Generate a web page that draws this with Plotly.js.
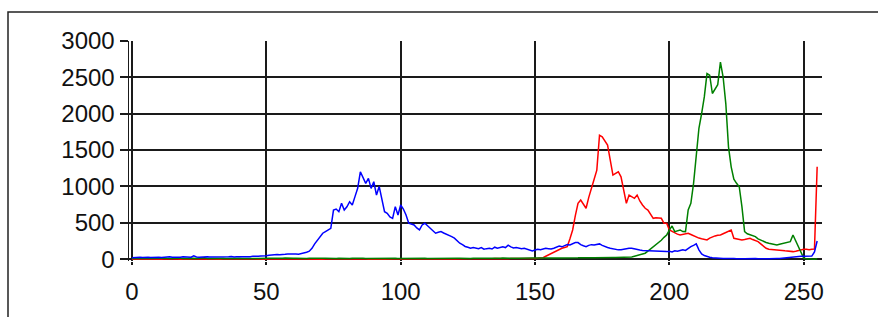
<!DOCTYPE html>
<html>
<head>
<meta charset="utf-8">
<script src="https://cdn.plot.ly/plotly-3.0.1.min.js"></script>
<style>
  html, body { margin: 0; padding: 0; background: #fff; }
  #chart { width: 878px; height: 317px; }
</style>
</head>
<body>
<div id="chart"></div>
<script>
// Histogram counts per intensity level 0..255 (x = index)
const redCounts = [
  0, 2, 0, 1, 0, 3, 0, 2, 1, 0,
  2, 0, 1, 3, 0, 2, 0, 1, 0, 2,
  1, 0, 3, 0, 2, 1, 0, 2, 0, 1,
  0, 2, 1, 0, 3, 1, 0, 2, 0, 1,
  2, 0, 1, 0, 2, 3, 0, 1, 2, 0,
  1, 2, 0, 3, 1, 0, 2, 1, 0, 2,
  3, 1, 0, 2, 1, 4, 0, 2, 3, 1,
  2, 0, 3, 1, 2, 0, 4, 1, 2, 3,
  1, 3, 2, 0, 4, 2, 1, 3, 0, 2,
  3, 1, 4, 2, 0, 3, 2, 1, 4, 2,
  3, 2, 4, 1, 3, 5, 2, 4, 3, 2,
  4, 3, 5, 2, 4, 3, 6, 4, 3, 5,
  4, 6, 3, 5, 4, 6, 5, 4, 7, 5,
  6, 5, 7, 6, 5, 8, 6, 7, 8, 6,
  7, 8, 6, 9, 7, 8, 10, 8, 9, 11,
  10, 12, 15, 20, 40, 59, 80, 100, 120, 140,
  150, 160, 173, 280, 402, 600, 768, 813, 760, 700,
  850, 996, 1100, 1225, 1705, 1682, 1630, 1568, 1362, 1157,
  1180, 1202, 1133, 950, 768, 882, 860, 837, 882, 800,
  745, 700, 676, 620, 562, 570, 562, 562, 494, 494,
  402, 380, 357, 345, 333, 340, 350, 357, 340, 320,
  310, 290, 280, 270, 265, 290, 310, 320, 330, 333,
  350, 365, 379, 402, 288, 280, 270, 265, 270, 280,
  288, 270, 255, 241, 210, 173, 150, 137, 135, 130,
  128, 128, 120, 115, 110, 108, 104, 110, 120, 130,
  137, 137, 130, 137, 140, 1270
];
const greenCounts = [
  8, 10, 12, 9, 11, 14, 10, 12, 9, 13,
  11, 10, 14, 12, 9, 11, 15, 10, 12, 11,
  13, 9, 12, 14, 10, 11, 13, 20, 10, 12,
  11, 14, 10, 12, 13, 9, 11, 14, 12, 10,
  12, 11, 13, 10, 14, 12, 11, 10, 13, 12,
  11, 14, 12, 10, 13, 11, 12, 15, 11, 13,
  12, 14, 11, 13, 12, 10, 14, 12, 11, 13,
  10, 12, 14, 11, 13, 12, 10, 14, 11, 12,
  13, 11, 12, 14, 10, 12, 13, 11, 12, 10,
  13, 11, 12, 14, 11, 12, 10, 13, 12, 11,
  12, 14, 11, 13, 10, 12, 11, 14, 12, 13,
  11, 12, 10, 13, 14, 11, 12, 13, 10, 12,
  11, 13, 12, 10, 14, 12, 11, 13, 12, 14,
  12, 11, 13, 15, 12, 14, 13, 12, 15, 13,
  14, 12, 15, 13, 14, 16, 13, 15, 14, 16,
  15, 14, 16, 15, 17, 16, 15, 18, 16, 17,
  16, 18, 17, 16, 19, 17, 18, 20, 18, 19,
  20, 19, 21, 20, 22, 21, 23, 22, 24, 23,
  24, 25, 24, 26, 25, 28, 30, 40, 50, 60,
  70, 82, 110, 140, 170, 196, 220, 260, 300, 333,
  400, 457, 379, 390, 402, 380, 379, 676, 768, 1043,
  1400, 1800, 2003, 2231, 2552, 2529, 2278, 2330, 2400, 2711,
  2505, 2140, 1545, 1270, 1100, 1043, 996, 722, 379, 350,
  333, 320, 310, 280, 260, 241, 230, 220, 210, 200,
  196, 205, 215, 220, 230, 241, 333, 250, 173, 73,
  14, 5, 0, 0, 0, 5
];
const blueCounts = [
  20, 25, 22, 28, 24, 30, 26, 22, 27, 25,
  28, 24, 30, 26, 35, 28, 25, 30, 27, 32,
  28, 30, 26, 45, 30, 28, 32, 29, 35, 31,
  30, 34, 28, 32, 36, 30, 33, 38, 31, 35,
  34, 40, 36, 38, 35, 42, 38, 40, 45, 42,
  48, 55, 60, 58, 65, 62, 70, 68, 72, 75,
  70, 72, 68, 75, 80, 95, 110, 150, 210, 260,
  320, 357, 380, 400, 425, 676, 690, 653, 768, 676,
  720, 790, 745, 860, 974, 1202, 1130, 1043, 1111, 974,
  1065, 882, 1000, 813, 653, 631, 580, 562, 722, 608,
  745, 690, 608, 494, 480, 471, 430, 402, 471, 494,
  460, 425, 380, 357, 370, 379, 360, 347, 330, 310,
  290, 250, 220, 200, 175, 165, 150, 160, 150, 145,
  160, 137, 145, 150, 140, 165, 150, 155, 170, 160,
  192, 170, 155, 160, 150, 145, 150, 140, 130, 114,
  125, 135, 130, 140, 150, 145, 140, 150, 165, 180,
  170, 190, 200, 195, 210, 228, 228, 200, 185, 173,
  190, 200, 196, 205, 210, 190, 170, 160, 151, 140,
  135, 128, 130, 140, 145, 150, 151, 140, 130, 125,
  120, 118, 115, 110, 108, 105, 104, 104, 100, 104,
  110, 100, 115, 110, 120, 128, 120, 150, 173, 190,
  210, 128, 73, 50, 35, 27, 20, 15, 12, 10,
  8, 10, 6, 12, 8, 5, 10, 7, 6, 9,
  5, 8, 10, 6, 8, 12, 7, 5, 9, 6,
  10, 8, 12, 15, 20, 25, 30, 35, 45, 40,
  40, 38, 40, 42, 100, 250
];
const xTicks = [0, 50, 100, 150, 200, 250];
const yTicks = [0, 500, 1000, 1500, 2000, 2500, 3000];
const seriesNames = ['Red', 'Green', 'Blue'];
const seriesColors = ['#ff0000', '#008000', '#0000ff'];

const allCounts = [redCounts, greenCounts, blueCounts];
const traces = allCounts.map((ys, i) => ({
  type: 'scatter',
  mode: 'lines',
  name: seriesNames[i],
  y: ys,
  x0: 0,
  dx: 1,
  line: { color: seriesColors[i], width: 1.5 },
  hoverinfo: 'x+y'
}));

const layout = {
  width: 878,
  height: 317,
  margin: { l: 129, r: 56, t: 41, b: 56, pad: 0 },
  paper_bgcolor: '#ffffff',
  plot_bgcolor: '#ffffff',
  showlegend: false,
  font: { family: 'Liberation Sans, Arial, sans-serif', size: 24, color: '#111' },
  xaxis: {
    range: [-1.1, 256.8],
    tickmode: 'array',
    tickvals: xTicks,
    ticktext: xTicks.map(String),
    showgrid: true,
    gridcolor: '#1a1a1a',
    gridwidth: 2,
    ticks: 'outside',
    ticklen: 3,
    tickcolor: '#1a1a1a',
    tickwidth: 2,
    zeroline: false,
    showline: false,
    ticklabelstandoff: 6
  },
  yaxis: {
    range: [-25, 3000],
    tickmode: 'array',
    tickvals: yTicks,
    ticktext: yTicks.map(String),
    showgrid: true,
    gridcolor: '#1a1a1a',
    gridwidth: 2,
    ticks: 'outside',
    ticklen: 8,
    tickcolor: '#1a1a1a',
    tickwidth: 2,
    zeroline: true,
    zerolinecolor: '#1a1a1a',
    zerolinewidth: 2,
    showline: true,
    linecolor: '#1a1a1a',
    linewidth: 1.5
  },
  shapes: [{
    type: 'rect',
    xref: 'paper', yref: 'paper',
    x0: -0.1746, x1: 1.3, y0: -0.6, y1: 1.1318,
    line: { color: '#222', width: 1.5 },
    fillcolor: 'rgba(0,0,0,0)',
    layer: 'below'
  }]
};

Plotly.newPlot('chart', traces, layout, { staticPlot: true, displayModeBar: false });
</script>
</body>
</html>
